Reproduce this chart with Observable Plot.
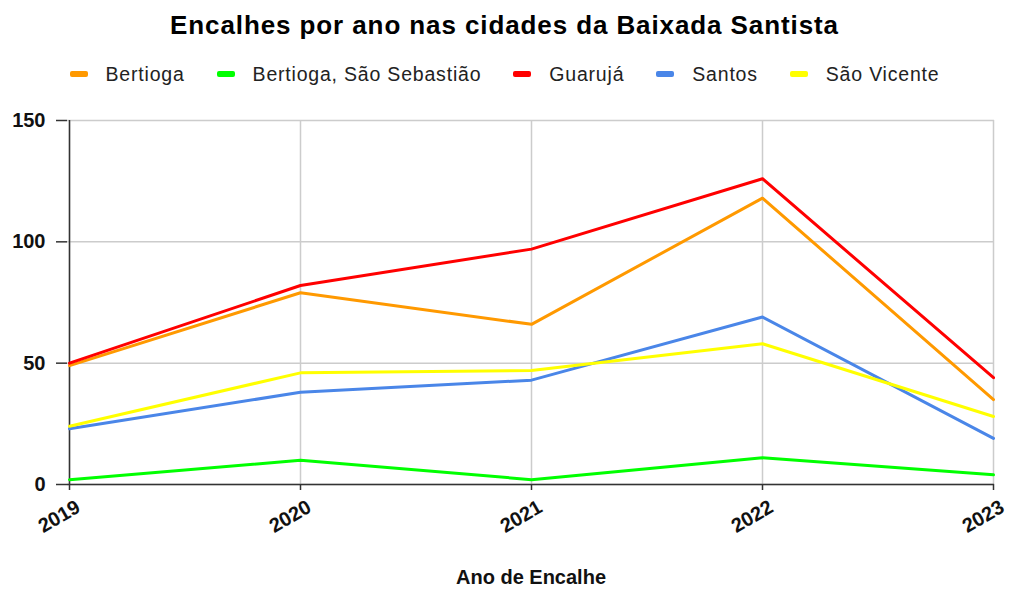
<!DOCTYPE html>
<html>
<head>
<meta charset="utf-8">
<script src="https://cdn.jsdelivr.net/npm/d3@7"></script>
<script src="https://cdn.jsdelivr.net/npm/@observablehq/plot@0.6"></script>
<style>
  body { margin: 0; background: #fff; width: 1009px; height: 589px; overflow: hidden; }
  #title { height: 50px; font: bold 26px "Liberation Sans", Arial, sans-serif; line-height: 50px; text-align: center; letter-spacing: 0.9px; color: #000; }
  #legend { height: 48px; display: flex; justify-content: center; align-items: center; gap: 32px; font: 19.5px "Liberation Sans", Arial, sans-serif; letter-spacing: 0.8px; color: #222; }
  #legend .item { display: flex; align-items: center; }
  #legend .sw { display: inline-block; width: 18px; height: 6px; border-radius: 2px; margin-right: 18px; }
  #chart svg { display: block; }
</style>
</head>
<body>
<div id="title">Encalhes por ano nas cidades da Baixada Santista</div>
<div id="legend"></div>
<div id="chart"></div>
<script>
const years = ["2019", "2020", "2021", "2022", "2023"];
const seriesNames = ["Bertioga", "Bertioga, São Sebastião", "Guarujá", "Santos", "São Vicente"];
const seriesColors = ["#ff9900", "#00ff00", "#ff0000", "#4a86e8", "#ffff00"];
const bertioga = [49, 79, 66, 118, 35];
const bertiogaSaoSebastiao = [2, 10, 2, 11, 4];
const guaruja = [50, 82, 97, 126, 44];
const santos = [23, 38, 43, 69, 19];
const saoVicente = [24, 46, 47, 58, 28];
const yTicks = [0, 50, 100, 150];
const xTitle = "Ano de Encalhe";

const seriesValues = [bertioga, bertiogaSaoSebastiao, guaruja, santos, saoVicente];
const data = [];
seriesNames.forEach((name, i) => {
  years.forEach((yr, j) => data.push({series: name, year: yr, value: seriesValues[i][j]}));
});

const legend = document.getElementById("legend");
seriesNames.forEach((name, i) => {
  const item = document.createElement("div");
  item.className = "item";
  const sw = document.createElement("span");
  sw.className = "sw";
  sw.style.background = seriesColors[i];
  const label = document.createElement("span");
  label.textContent = name;
  item.appendChild(sw);
  item.appendChild(label);
  legend.appendChild(item);
});

const chart = Plot.plot({
  width: 1009,
  height: 491,
  marginLeft: 67,
  marginRight: 15,
  marginTop: 22,
  marginBottom: 105,
  style: { fontFamily: "'Liberation Sans', Arial, sans-serif", fontSize: "20px", fontWeight: "bold", color: "#111", background: "#fff", overflow: "visible" },
  x: { type: "point", domain: years, padding: 0 },
  y: { domain: [0, 150] },
  color: { domain: seriesNames, range: seriesColors },
  marks: [
    Plot.gridX(years, { stroke: "#cccccc", strokeOpacity: 1, strokeWidth: 1.5 }),
    Plot.gridY(yTicks, { stroke: "#cccccc", strokeOpacity: 1, strokeWidth: 1.5 }),
    Plot.axisY({ ticks: yTicks, tickSize: 11, tickPadding: 11, label: null, stroke: "#333", strokeWidth: 1.5 }),
    Plot.axisX({ tickSize: 6, tickFormat: () => "", label: null, stroke: "#333", strokeWidth: 1.5 }),
    Plot.axisX({ tickRotate: -30, tickSize: 0, tickPadding: 21, dx: 9, label: xTitle, labelAnchor: "center", labelArrow: "none", labelOffset: 99 }),
    Plot.ruleY([0], { stroke: "#333", strokeWidth: 1.5 }),
    Plot.ruleX([years[0]], { stroke: "#333", strokeWidth: 1.5 }),
    Plot.lineY(data, { x: "year", y: "value", z: "series", stroke: "series", strokeWidth: 3 })
  ]
});
document.getElementById("chart").appendChild(chart);
</script>
</body>
</html>
